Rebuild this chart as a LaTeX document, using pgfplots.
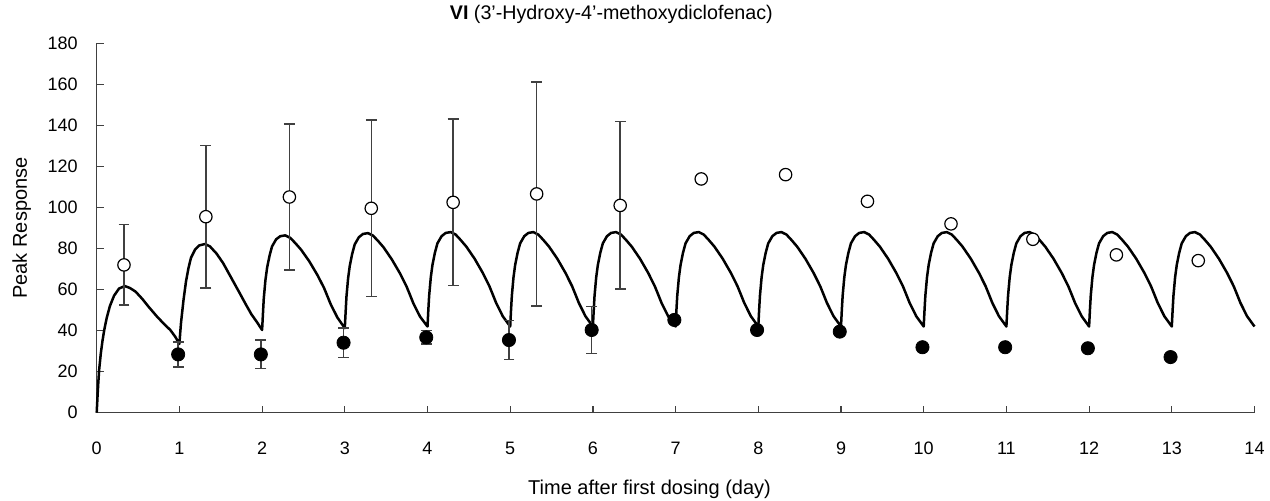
\documentclass[border=0pt]{standalone}
\usepackage{fontspec}
\setmainfont{Liberation Sans}
\usepackage{pgfplots}
\pgfplotsset{compat=1.18}

\definecolor{axisgray}{RGB}{64,64,64}

\begin{document}
\begin{tikzpicture}
\begin{axis}[
  name=ax,
  scale only axis, width=578.9pt, height=184.7pt,
  xmin=0, xmax=14, ymin=0, ymax=180,
  xtick={0,1,...,14}, ytick={0,20,...,180},
  axis lines*=left,
  axis line style={axisgray, line width=0.6pt},
  tick align=inside, major tick length=3.5pt,
  tick style={axisgray, line width=0.6pt},
  /pgf/number format/assume math mode=true,
  tick label style={font=\fontsize{9}{11}\selectfont},
  xticklabel style={yshift=-11pt},
  yticklabel style={xshift=-6pt},
  clip=false,
  title={\textbf{VI} (3’-Hydroxy-4’-methoxydiclofenac)},
  title style={at={(axis description cs:0.4445,1.0314)}, anchor=base, font=\fontsize{9.85}{12}\selectfont},
  xlabel={Time after first dosing (day)},
  xlabel style={at={(axis description cs:0.4775,-0.2204)}, anchor=base, font=\fontsize{10}{12}\selectfont},
  ylabel={Peak Response},
  ylabel style={at={(axis description cs:-0.0603,0.5)}, anchor=base, rotate=0, font=\fontsize{10}{12}\selectfont},
]
% simulated profile
\addplot[black, line width=1.25pt, line join=round, no markers] coordinates {
(0,0) (0.01,8) (0.02,15) (0.03,21) (0.05,29) (0.07,35) (0.09,40) (0.12,46) (0.16,52) (0.21,57) (0.27,60.5) (0.34,61.7) (0.40,60.8) (0.47,59) (0.55,55.5) (0.63,51.5) (0.73,46.8) (0.82,43) (0.89,40.3) (0.95,37)
(1,33.5) (1.01,39) (1.02,44) (1.05,55) (1.08,64) (1.11,70.5) (1.14,75.5) (1.19,79.5) (1.24,81.5) (1.31,82.2) (1.37,81) (1.45,77.5) (1.53,72.8) (1.63,65.5) (1.73,58.2) (1.80,53) (1.87,48) (1.94,44)
(2,40.3) (2.01,48) (2.02,55.5) (2.04,64.5) (2.06,70.5) (2.09,76.5) (2.12,81) (2.17,84.5) (2.22,86) (2.28,86.4) (2.34,85.2) (2.40,82.7) (2.47,79.5) (2.57,73.8) (2.67,67) (2.75,60.7) (2.83,52.8) (2.91,46.4)
(3,41.2) (3.01,49) (3.02,56.5) (3.04,65.5) (3.06,71.5) (3.09,77.5) (3.12,82) (3.17,85.5) (3.22,87.1) (3.28,87.5) (3.34,86.3) (3.40,83.8) (3.47,80.5) (3.57,74.6) (3.67,67.7) (3.75,61.2) (3.83,53.2) (3.91,46.8)
(4,42) (4.01,50) (4.02,57) (4.04,66) (4.06,72) (4.09,78) (4.12,82.5) (4.17,86) (4.22,87.6) (4.28,88) (4.34,86.8) (4.40,84.2) (4.47,80.9) (4.57,75) (4.67,68) (4.75,61.5) (4.83,53.5) (4.91,47)
(5,42) (5.01,50) (5.02,57) (5.04,66) (5.06,72) (5.09,78) (5.12,82.5) (5.17,86) (5.22,87.6) (5.28,88) (5.34,86.8) (5.40,84.2) (5.47,80.9) (5.57,75) (5.67,68) (5.75,61.5) (5.83,53.5) (5.91,47)
(6,42) (6.01,50) (6.02,57) (6.04,66) (6.06,72) (6.09,78) (6.12,82.5) (6.17,86) (6.22,87.6) (6.28,88) (6.34,86.8) (6.40,84.2) (6.47,80.9) (6.57,75) (6.67,68) (6.75,61.5) (6.83,53.5) (6.91,47)
(7,42) (7.01,50) (7.02,57) (7.04,66) (7.06,72) (7.09,78) (7.12,82.5) (7.17,86) (7.22,87.6) (7.28,88) (7.34,86.8) (7.40,84.2) (7.47,80.9) (7.57,75) (7.67,68) (7.75,61.5) (7.83,53.5) (7.91,47)
(8,42) (8.01,50) (8.02,57) (8.04,66) (8.06,72) (8.09,78) (8.12,82.5) (8.17,86) (8.22,87.6) (8.28,88) (8.34,86.8) (8.40,84.2) (8.47,80.9) (8.57,75) (8.67,68) (8.75,61.5) (8.83,53.5) (8.91,47)
(9,42) (9.01,50) (9.02,57) (9.04,66) (9.06,72) (9.09,78) (9.12,82.5) (9.17,86) (9.22,87.6) (9.28,88) (9.34,86.8) (9.40,84.2) (9.47,80.9) (9.57,75) (9.67,68) (9.75,61.5) (9.83,53.5) (9.91,47)
(10,42) (10.01,50) (10.02,57) (10.04,66) (10.06,72) (10.09,78) (10.12,82.5) (10.17,86) (10.22,87.6) (10.28,88) (10.34,86.8) (10.40,84.2) (10.47,80.9) (10.57,75) (10.67,68) (10.75,61.5) (10.83,53.5) (10.91,47)
(11,42) (11.01,50) (11.02,57) (11.04,66) (11.06,72) (11.09,78) (11.12,82.5) (11.17,86) (11.22,87.6) (11.28,88) (11.34,86.8) (11.40,84.2) (11.47,80.9) (11.57,75) (11.67,68) (11.75,61.5) (11.83,53.5) (11.91,47)
(12,42) (12.01,50) (12.02,57) (12.04,66) (12.06,72) (12.09,78) (12.12,82.5) (12.17,86) (12.22,87.6) (12.28,88) (12.34,86.8) (12.40,84.2) (12.47,80.9) (12.57,75) (12.67,68) (12.75,61.5) (12.83,53.5) (12.91,47)
(13,42) (13.01,50) (13.02,57) (13.04,66) (13.06,72) (13.09,78) (13.12,82.5) (13.17,86) (13.22,87.6) (13.28,88) (13.34,86.8) (13.40,84.2) (13.47,80.9) (13.57,75) (13.67,68) (13.75,61.5) (13.83,53.5) (13.91,47)
(14,42)
};
% trough values (filled)
\addplot[only marks, mark=*, mark size=3.3pt, mark options={fill=black, draw=black},
  error bars/.cd, y dir=both, y explicit,
  error bar style={axisgray, line width=0.75pt},
  error mark options={rotate=90, mark size=2.7pt, axisgray, line width=0.75pt}]
  table[x=x, y=y, y error=e] {
x      y     e
0.985  28.4  6.1
1.985  28.4  6.9
2.985  34.1  7.2
3.985  36.7  3.3
4.985  35.4  9.6
5.985  40.3  11.4
6.985  45.2  0
7.985  40.3  0
8.985  39.5  0
9.985  31.9  0
10.985 31.9  0
11.985 31.4  0
12.985 27.1  0
};
% peak values (open)
\addplot[only marks, mark=*, mark size=3.1pt, mark options={fill=white, draw=black, line width=0.6pt},
  error bars/.cd, y dir=both, y explicit,
  error bar style={axisgray, line width=0.75pt},
  error mark options={rotate=90, mark size=2.7pt, axisgray, line width=0.75pt}]
  table[x=x, y=y, y error=e] {
x      y      e
0.33   72     19.6
1.32   95.5   34.8
2.33   105.1  35.5
3.32   99.6   43
4.31   102.5  40.5
5.32   106.6  54.5
6.33   101    40.8
7.31   113.9  0
8.33   116    0
9.32   103    0
10.33  92     0
11.32  84.5   0
12.33  76.9   0
13.32  74.1   0
};
\end{axis}
\pgfresetboundingbox
\path[use as bounding box] ([shift={(-48.35pt,-44.15pt)}]ax.south west) rectangle ([shift={(586.65pt,206.35pt)}]ax.south west);
\end{tikzpicture}
\end{document}
